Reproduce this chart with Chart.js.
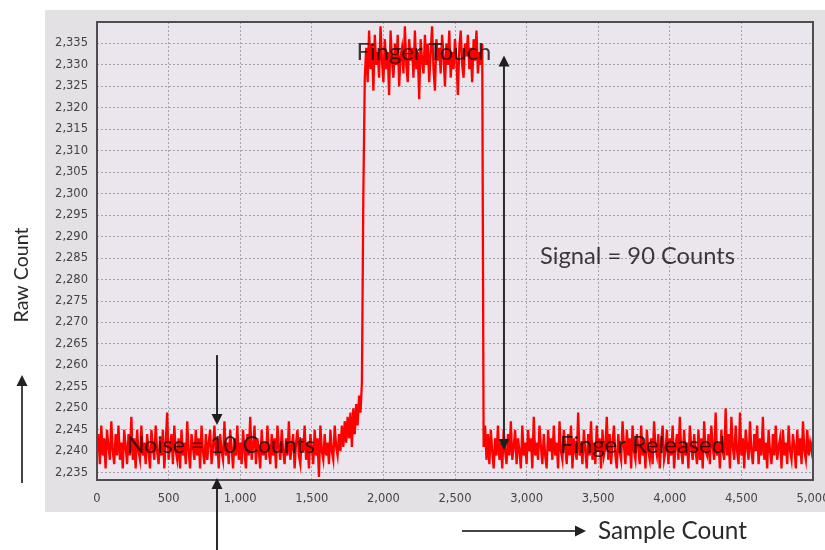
<!DOCTYPE html>
<html>
<head>
<meta charset="utf-8">
<script src="https://cdn.jsdelivr.net/npm/chart.js@4/dist/chart.umd.min.js"></script>
<style>
  html, body { margin: 0; padding: 0; background: #ffffff; }
  #wrap { width: 825px; height: 550px; }
</style>
</head>
<body>
<div id="wrap"><canvas id="c" width="825" height="550"></canvas></div>
<script>
// ---- data ----
const sampleStep = 10; // one value every 10 samples
const rawCount = [
  2240,2244,2237,2246,2239,2243,2236,2245,2241,2238,2247,2240,2237,2244,2239,2246,2238,2242,2236,2245,
  2241,2237,2244,2239,2248,2238,2243,2236,2245,2240,2238,2246,2239,2242,2237,2244,2240,2236,2245,2241,
  2238,2246,2240,2237,2243,2239,2245,2236,2242,2249,2238,2241,2244,2237,2246,2240,2238,2243,2236,2245,
  2239,2242,2237,2247,2240,2236,2244,2241,2238,2245,2239,2243,2236,2246,2240,2237,2244,2238,2242,2245,
  2237,2241,2246,2239,2243,2236,2244,2240,2238,2247,2239,2242,2237,2245,2241,2236,2243,2239,2246,2238,
  2242,2237,2245,2240,2236,2244,2239,2248,2238,2241,2246,2237,2243,2240,2236,2245,2239,2242,2238,2246,
  2240,2237,2244,2239,2243,2236,2246,2241,2238,2245,2240,2237,2243,2239,2247,2238,2241,2244,2236,2242,
  2245,2239,2237,2243,2240,2246,2238,2242,2236,2244,2241,2237,2245,2239,2243,2234,2246,2240,2238,2244,
  2239,2242,2237,2245,2240,2238,2246,2241,2239,2244,2240,2246,2241,2247,2242,2248,2243,2249,2241,2250,
  2244,2251,2246,2253,2249,2256,2300,2327,2334,2326,2338,2329,2335,2324,2337,2330,2333,2327,2339,2331,
  2326,2336,2329,2333,2323,2338,2331,2327,2335,2330,2337,2325,2332,2334,2328,2339,2330,2326,2336,2331,
  2334,2327,2338,2329,2333,2322,2336,2331,2328,2337,2330,2335,2326,2333,2339,2329,2324,2336,2331,2334,
  2328,2337,2332,2325,2335,2330,2338,2327,2333,2329,2336,2331,2323,2334,2338,2330,2327,2335,2332,2337,
  2329,2334,2326,2336,2331,2338,2328,2333,2330,2335,2241,2246,2238,2244,2237,2245,2240,2236,2243,2239,
  2246,2238,2242,2236,2245,2240,2237,2244,2239,2247,2238,2241,2245,2237,2243,2240,2236,2246,2239,2242,
  2237,2245,2240,2243,2236,2248,2239,2242,2238,2246,2241,2237,2244,2239,2236,2245,2240,2243,2238,2246,
  2239,2242,2236,2247,2240,2238,2245,2241,2237,2244,2239,2246,2236,2243,2240,2238,2249,2239,2242,2237,
  2245,2240,2236,2244,2239,2247,2238,2242,2237,2246,2240,2243,2236,2245,2239,2241,2248,2238,2244,2237,
  2242,2246,2239,2236,2244,2240,2238,2247,2241,2237,2245,2239,2243,2236,2246,2240,2238,2244,2241,2237,
  2246,2239,2242,2236,2245,2240,2238,2243,2237,2247,2241,2239,2244,2236,2242,2246,2238,2240,2245,2237,
  2243,2239,2246,2236,2241,2244,2238,2248,2240,2237,2245,2239,2242,2236,2246,2241,2238,2244,2240,2237,
  2245,2238,2243,2236,2247,2240,2239,2244,2237,2246,2241,2238,2249,2239,2242,2236,2245,2240,2238,2250,
  2239,2244,2236,2248,2241,2238,2246,2240,2237,2249,2239,2243,2236,2245,2241,2238,2247,2240,2237,2244,
  2240,2246,2237,2243,2239,2248,2238,2242,2236,2245,2240,2237,2244,2239,2246,2238,2241,2243,2236,2245,
  2239,2242,2237,2246,2240,2238,2244,2241,2236,2245,2239,2243,2237,2247,2240,2238,2245,2239,2242,2240,
  2243
];
const xTickValues = [0,500,1000,1500,2000,2500,3000,3500,4000,4500,5000];
const yTickValues = [2235,2240,2245,2250,2255,2260,2265,2270,2275,2280,2285,2290,2295,2300,2305,2310,2315,2320,2325,2330,2335];
const xMin = 0, xMax = 5000;
const yMin = 2233.3, yMax = 2340;

// annotation anchors in data units
const signalArrow = { x: 2842, from: 2240.3, to: 2332.2 };
const noiseArrow = { x: 838, from: 2262.4, to: 2246.1 };
const labels = [
  { text: 'Finger Touch',       x: 2283, y: 2332.9, align: 'center', width: 135 },
  { text: 'Signal = 90 Counts', x: 3094, y: 2285.4, align: 'left',   width: 195 },
  { text: 'Noise = 10 Counts',  x: 209,  y: 2241.4, align: 'left',   width: 188 },
  { text: 'Finger Released',    x: 3233, y: 2241.4, align: 'left',   width: 165 }
];

const points = rawCount.map((v, i) => ({ x: i * sampleStep, y: v }));

const FONT = 'Lato, "Open Sans", sans-serif';
function fitFont(ctx, text, width) {
  ctx.font = '20px ' + FONT;
  const w = ctx.measureText(text).width;
  return (20 * width / w).toFixed(2) + 'px ' + FONT;
}
function arrowHead(ctx, x1, y1, x2, y2) {
  const ang = Math.atan2(y2 - y1, x2 - x1);
  const L = 11, H = 5.5;
  ctx.beginPath();
  ctx.moveTo(x2, y2);
  ctx.lineTo(x2 - L * Math.cos(ang) + H * Math.sin(ang), y2 - L * Math.sin(ang) - H * Math.cos(ang));
  ctx.lineTo(x2 - L * Math.cos(ang) - H * Math.sin(ang), y2 - L * Math.sin(ang) + H * Math.cos(ang));
  ctx.closePath();
  ctx.fill();
}
function arrow(ctx, x1, y1, x2, y2, both) {
  const ang = Math.atan2(y2 - y1, x2 - x1);
  const s = both ? 9 : 0;
  ctx.beginPath();
  ctx.moveTo(x1 + s * Math.cos(ang), y1 + s * Math.sin(ang));
  ctx.lineTo(x2 - 9 * Math.cos(ang), y2 - 9 * Math.sin(ang));
  ctx.stroke();
  arrowHead(ctx, x1, y1, x2, y2);
  if (both) arrowHead(ctx, x2, y2, x1, y1);
}

const bgPlugin = {
  id: 'bg',
  beforeDraw(chart) {
    const { ctx, chartArea: a } = chart;
    ctx.save();
    ctx.fillStyle = '#ffffff';
    ctx.fillRect(0, 0, chart.width, chart.height);
    ctx.fillStyle = '#e3e1e4';
    ctx.fillRect(45, 10, chart.width - 45, 502);
    ctx.fillStyle = '#ebe6ed';
    ctx.fillRect(a.left, a.top, a.right - a.left, a.bottom - a.top);
    ctx.restore();
  },
  afterDatasetsDraw(chart) {
    const { ctx, chartArea: a } = chart;
    ctx.save();
    ctx.strokeStyle = '#4d4d4d';
    ctx.lineWidth = 2;
    ctx.strokeRect(a.left, a.top, a.right - a.left, a.bottom - a.top);
    ctx.restore();
  },
  afterDraw(chart) {
    const { ctx, chartArea: a } = chart;
    const xs = chart.scales.x, ys = chart.scales.y;
    ctx.save();
    ctx.strokeStyle = '#2b2b2b';
    ctx.fillStyle = '#1e1e1e';
    ctx.lineWidth = 2;
    // signal double arrow
    const sx = xs.getPixelForValue(signalArrow.x);
    arrow(ctx, sx, ys.getPixelForValue(signalArrow.from), sx, ys.getPixelForValue(signalArrow.to), true);
    // noise arrows
    const nx = xs.getPixelForValue(noiseArrow.x);
    arrow(ctx, nx, ys.getPixelForValue(noiseArrow.from), nx, ys.getPixelForValue(noiseArrow.to), false);
    arrow(ctx, nx, chart.height, nx, a.bottom - 2, false);
    // axis-title arrows
    ctx.strokeStyle = '#444';
    ctx.fillStyle = '#222';
    arrow(ctx, 22, 483, 22, 375, false);
    arrow(ctx, 462, 531, 586, 531, false);

    // labels in the plot
    ctx.textBaseline = 'middle';
    labels.forEach(l => {
      ctx.font = fitFont(ctx, l.text, l.width);
      ctx.textAlign = l.align;
      ctx.fillStyle = 'rgba(15,10,10,0.8)';
      ctx.fillText(l.text, xs.getPixelForValue(l.x), ys.getPixelForValue(l.y));
    });
    // axis titles
    ctx.fillStyle = '#2a2a2a';
    ctx.font = fitFont(ctx, 'Sample Count', 149);
    ctx.textAlign = 'left';
    ctx.fillText('Sample Count', 598, 531);
    ctx.save();
    ctx.translate(22, 275);
    ctx.rotate(-Math.PI / 2);
    ctx.font = fitFont(ctx, 'Raw Count', 95);
    ctx.textAlign = 'center';
    ctx.fillText('Raw Count', 0, 0);
    ctx.restore();
    ctx.restore();
  }
};

const tickFont = { family: '"DejaVu Sans", Verdana, sans-serif', size: 11.5 };

new Chart(document.getElementById('c'), {
  type: 'line',
  data: {
    datasets: [{
      label: 'Raw Count',
      data: points,
      borderColor: '#ff0000',
      borderWidth: 2.3,
      pointRadius: 0,
      tension: 0,
      fill: false
    }]
  },
  options: {
    responsive: false,
    animation: false,
    devicePixelRatio: 1,
    layout: { padding: { left: 45, top: 22, right: 12, bottom: 0 } },
    plugins: { legend: { display: false }, tooltip: { enabled: false } },
    scales: {
      x: {
        type: 'linear',
        min: xMin, max: xMax,
        afterBuildTicks(s) { s.ticks = xTickValues.map(v => ({ value: v })); },
        afterFit(s) { s.height = 70; s.paddingLeft = 0; s.paddingRight = 0; },
        grid: { color: '#a7a3aa', lineWidth: 1, drawTicks: false },
        border: { display: false, dash: [2, 2] },
        ticks: { padding: 12, color: '#444444', font: tickFont, maxRotation: 0, autoSkip: false }
      },
      y: {
        type: 'linear',
        min: yMin, max: yMax,
        afterBuildTicks(s) { s.ticks = yTickValues.map(v => ({ value: v })); },
        afterFit(s) { s.width = 52; s.paddingTop = 0; s.paddingBottom = 0; },
        grid: { color: '#a7a3aa', lineWidth: 1, drawTicks: false },
        border: { display: false, dash: [2, 2] },
        ticks: { padding: 9, color: '#444444', font: tickFont, autoSkip: false }
      }
    }
  },
  plugins: [bgPlugin]
});
</script>
</body>
</html>
